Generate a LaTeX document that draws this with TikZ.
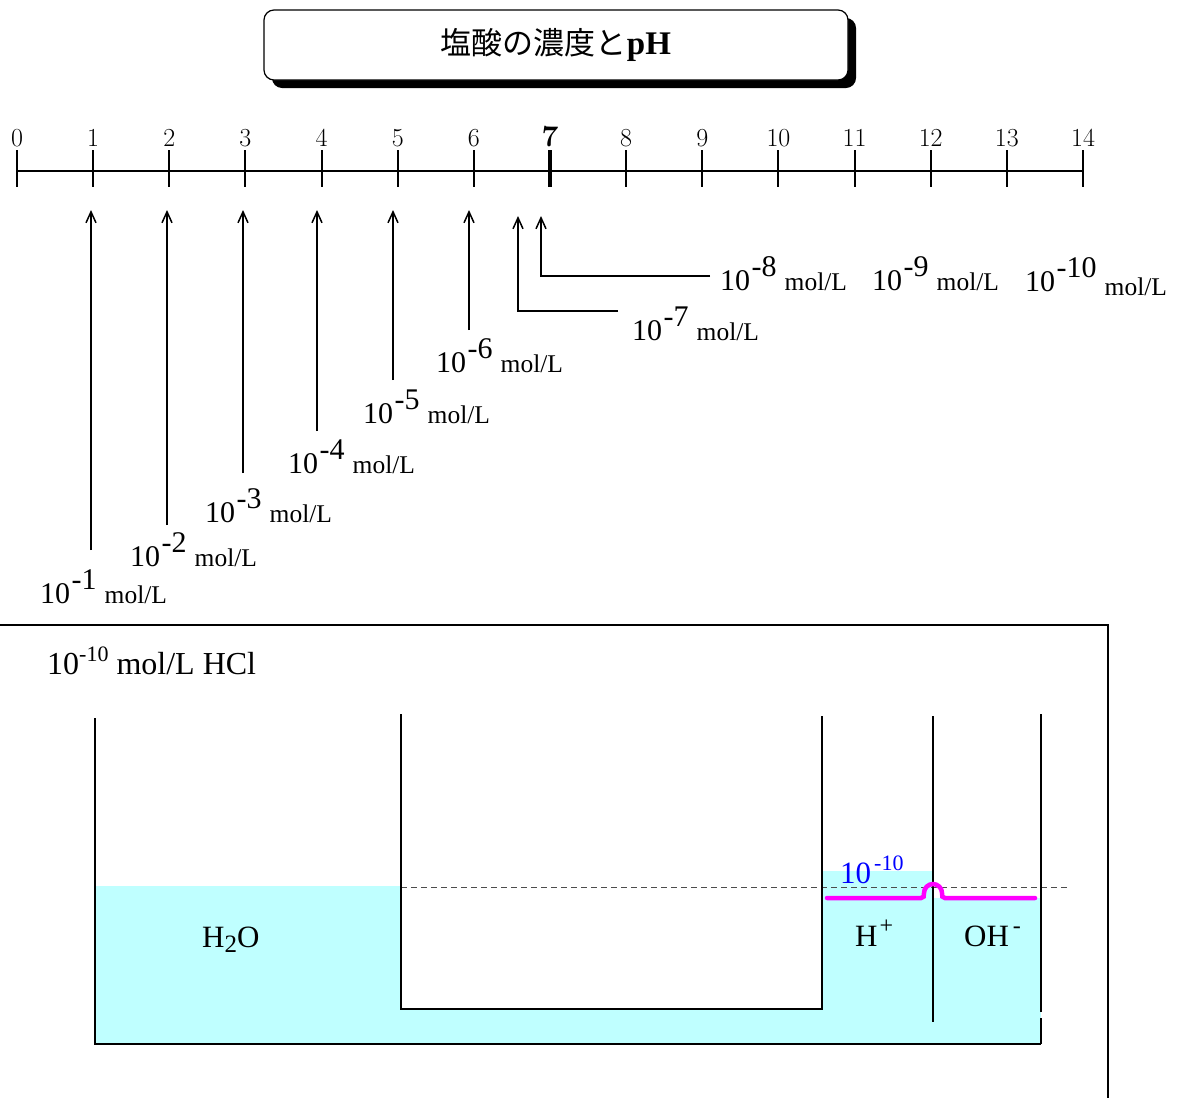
\documentclass[tikz,border=0pt]{standalone}
\usepackage{fontspec}
\newfontfamily\tms{Liberation Serif}
\newfontfamily\cjk{Noto Sans CJK JP}
\usetikzlibrary{arrows.meta,shadows}
\newcommand\fs[1]{\fontsize{#1}{#1}\selectfont}
\newcommand\conc[2][0pt]{{\tms\fs{30}10\hspace{1.5pt}\raisebox{14pt}{-#2}\hspace{8pt}\raisebox{-#1}{\fs{25.5}mol/L}}}
\definecolor{water}{RGB}{191,255,255}
\definecolor{mag}{RGB}{255,0,255}
\tikzset{
  arr/.style={line width=1.3pt,-{Straight Barb[length=11pt,width=10pt,line width=1.5pt]}},
  lbl/.style={anchor=base west,inner sep=0pt},
  wall/.style={line width=2.5pt},
  tick/.style={line width=2pt},
}
\begin{document}
\begin{tikzpicture}[x=1pt,y=-1pt]
\useasboundingbox (0,0) rectangle (1182,1098);
% title
\node[draw,line width=1.2pt,fill=white,rounded corners=10pt,minimum width=584pt,minimum height=70pt,inner sep=0pt,
  drop shadow={shadow xshift=8pt,shadow yshift=-8pt,fill=black,opacity=1}] (title) at (556,45)
  {{\cjk\fs{31}塩酸の濃度と}{\tms\bfseries\fs{33}pH}};
% axis
\draw[tick] (17,171) -- (1083,171);
\foreach \i in {0,...,14}{
  \pgfmathsetmacro\xx{17+76.143*\i}
  \ifnum\i=7
    \draw[line width=4.5pt] (\xx,150) -- (\xx,187);
    \node[anchor=base,inner sep=0pt] (t\i) at (\xx,146) {\bfseries\fs{30}\i};
  \else
    \draw[tick] (\xx,150) -- (\xx,187);
    \node[anchor=base,inner sep=0pt] (t\i) at (\xx,146) {\fs{26}\i};
  \fi
}
% arrows
\coordinate (a1) at (91,550);  \coordinate (b1) at (91,210);
\coordinate (a2) at (167,525); \coordinate (b2) at (167,210);
\coordinate (a3) at (243,473); \coordinate (b3) at (243,210);
\coordinate (a4) at (317,431); \coordinate (b4) at (317,210);
\coordinate (a5) at (393,380); \coordinate (b5) at (393,210);
\coordinate (a6) at (469,330); \coordinate (b6) at (469,210);
\coordinate (a7) at (618,311); \coordinate (b7) at (518,216);
\coordinate (a8) at (710,276); \coordinate (b8) at (541,216);
\foreach \k in {1,...,6}{\draw[arr] (a\k) -- (b\k);}
\draw[arr] (a7) -| (b7);
\draw[arr] (a8) -| (b8);
% concentration labels
\node[lbl] (c1) at (40,603) {\conc{1}};
\node[lbl] (c2) at (130,566) {\conc{2}};
\node[lbl] (c3) at (205,522) {\conc{3}};
\node[lbl] (c4) at (288,473) {\conc{4}};
\node[lbl] (c5) at (363,423) {\conc{5}};
\node[lbl] (c6) at (436,372) {\conc{6}};
\node[lbl] (c7) at (632,340) {\conc{7}};
\node[lbl] (c8) at (720,290) {\conc{8}};
\node[lbl] (c9) at (872,290) {\conc{9}};
\node[lbl] (c10) at (1025,291) {\conc[4pt]{10}};
% lower frame
\draw[line width=2pt] (0,625) -- (1108,625) -- (1108,1098);
\node[lbl] (hcl) at (47,674) {\tms\fs{32}10\raisebox{13pt}{\fs{22}-10} mol/L HCl};
% water
\fill[water] (95,886) rectangle (401,1044);
\fill[water] (401,1009) rectangle (822,1044);
\fill[water] (822,871) rectangle (933,1044);
\fill[water] (933,898) rectangle (1041,1044);
\draw[dashed,dash pattern=on 6pt off 4pt,line width=0.9pt,black!70] (401,887) -- (1070,887);
% vessel
\draw[wall] (95,718) -- (95,1044) -- (1041,1044);
\draw[wall] (401,714) -- (401,1009) -- (822,1009) -- (822,716);
\draw[wall] (933,716) -- (933,1022);
\draw[wall] (1041,714) -- (1041,1012);
\draw[wall] (1041,1018) -- (1041,1044);
% magenta level
\draw[mag,line width=4.5pt,line cap=round] (827,898) -- (921,898)
  .. controls (924,898) and (924,896) .. (924,893)
  arc[start angle=180,end angle=360,radius=9]
  .. controls (942,896) and (942,898) .. (945,898) -- (1035,898);
\node[lbl,text=blue] (lev) at (840,883) {\tms\fs{31}10\hspace{3pt}\raisebox{13pt}{\fs{22}-10}};
\node[lbl] (h2o) at (202,947) {\tms\fs{31}H\raisebox{-5pt}{\fs{25}2}O};
\node[lbl] (hp) at (855,946) {\tms\fs{31}H\hspace{2pt}\raisebox{13pt}{\fs{24}+}};
\node[lbl] (ohm) at (964,946) {\tms\fs{31}OH\hspace{4pt}\raisebox{13pt}{\fs{24}-}};
\end{tikzpicture}
\end{document}
